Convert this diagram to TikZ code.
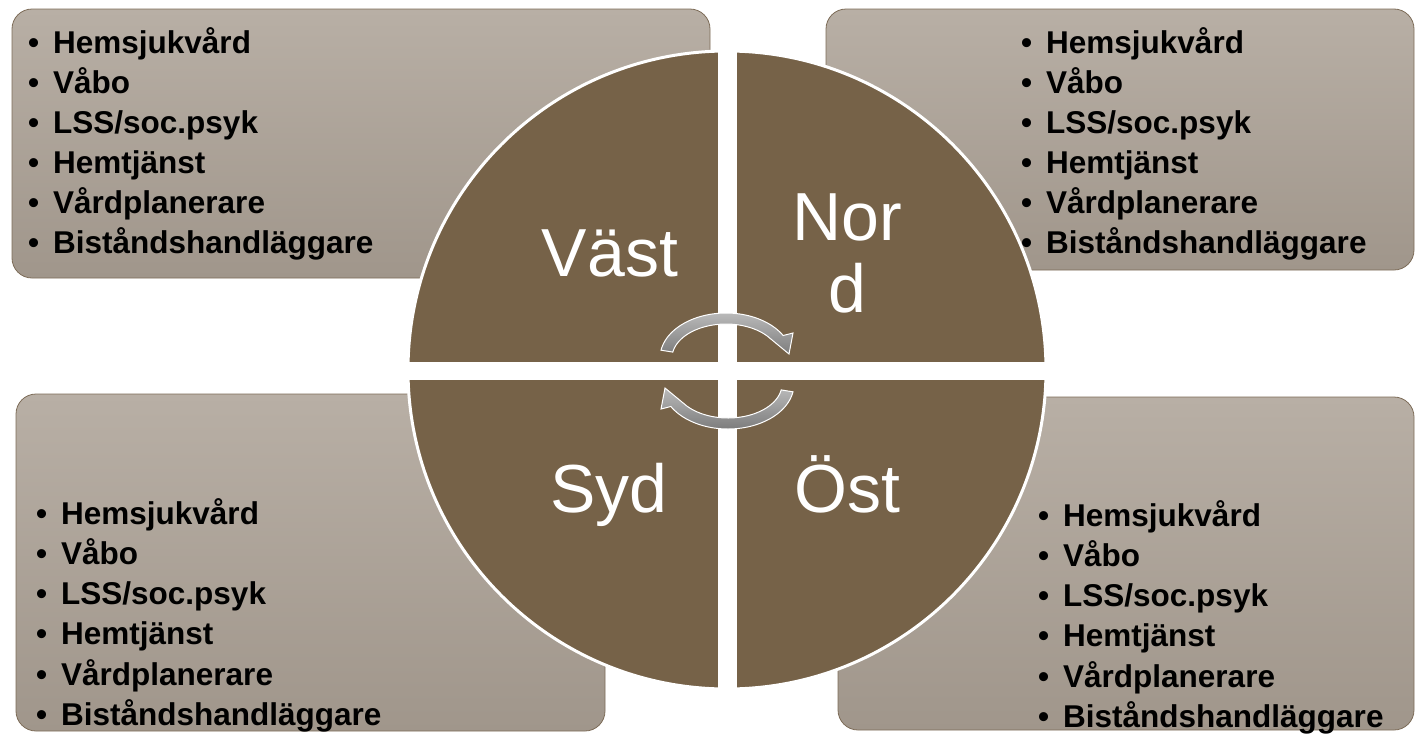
\documentclass[tikz,border=0pt]{standalone}
\usepackage{fontspec}
\setmainfont{Liberation Sans}
\definecolor{circbrown}{RGB}{118,98,72}
\definecolor{boxtop}{RGB}{184,175,165}
\definecolor{boxbot}{RGB}{160,150,139}
\definecolor{boxedge}{RGB}{125,108,88}
\definecolor{arrtop}{RGB}{185,185,185}
\definecolor{arrbot}{RGB}{125,125,125}
\tikzset{
  infobox/.style={rounded corners=20pt, top color=boxtop, bottom color=boxbot, draw=boxedge, line width=0.8pt},
  item/.style={anchor=base west, inner sep=0pt, font=\fontsize{31.5}{38}\selectfont\bfseries, text=black},
  quad/.style={anchor=base, inner sep=0pt, font=\fontsize{68}{72}\selectfont, text=white},
  cyclearrow/.style={top color=arrtop, bottom color=arrbot, draw=white, line width=1pt, line join=miter}
}
\newcommand{\bul}{\makebox[25pt][l]{•}}
\begin{document}
\begin{tikzpicture}[x=1pt,y=-1pt]
\useasboundingbox (0,0) rectangle (1416,734);
% boxes
\path[infobox] (12,9) rectangle (710,278);
\path[infobox] (826,9) rectangle (1414,270);
\path[infobox] (16,394) rectangle (605,731);
\path[infobox] (838,397) rectangle (1414,730);
% box texts
\foreach \t [count=\i] in {Hemsjukvård,Våbo,LSS/soc.psyk,Hemtjänst,Vårdplanerare,Biståndshandläggare}{
  \node[item] (tl\i) at (28,{53+40*(\i-1)}) {\bul\t};
  \node[item] (tr\i) at (1021,{53+40*(\i-1)}) {\bul\t};
  \node[item] (bl\i) at (36,{524+40.3*(\i-1)}) {\bul\t};
  \node[item] (br\i) at (1038,{526+40.3*(\i-1)}) {\bul\t};
}
% circle
\fill[circbrown] (727,370) circle (319);
\draw[white, line width=3pt] (727,370) circle (319);
\fill[white] (718,45) rectangle (737,695);
\fill[white] (400,362) rectangle (1054,380);
% quadrant labels
\node[quad] (vast) at (610,276) {Väst};
\node[quad] (nord1) at (847,240) {Nor};
\node[quad] (nord2) at (847,312) {d};
\node[quad] (syd) at (609,512) {Syd};
\node[quad] (ost) at (847,512) {Öst};
% cycle arrows
\path[cyclearrow] plot[domain=190:330,samples=50] ({726+66*cos(\x)},{358+45*sin(\x)})
  -- (793,333) -- (789,354)
  -- plot[domain=320:190,samples=50] ({726+54*cos(\x)},{358+34*sin(\x)}) -- cycle;
\begin{scope}[rotate around={180:(727,371)}]
\path[cyclearrow] plot[domain=190:330,samples=50] ({726+66*cos(\x)},{358+45*sin(\x)})
  -- (793,333) -- (789,354)
  -- plot[domain=320:190,samples=50] ({726+54*cos(\x)},{358+34*sin(\x)}) -- cycle;
\end{scope}
\end{tikzpicture}
\end{document}
